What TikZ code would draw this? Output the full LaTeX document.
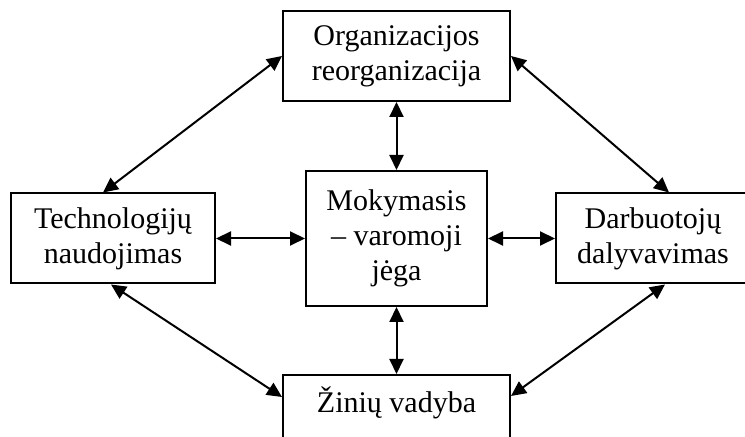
\documentclass[tikz,border=0pt]{standalone}
\usepackage{fontspec}
\setmainfont{Liberation Serif}
\usepackage{tikz}
\usetikzlibrary{positioning, arrows.meta}

\begin{document}
\begin{tikzpicture}[
    box/.style={rectangle, draw=black, line width=1pt, minimum height=45pt, align=center, inner sep=2pt, font=\fontsize{15}{17.5}\selectfont},
    arrow/.style={{Triangle[length=7.5pt,width=7pt]}-{Triangle[length=7.5pt,width=7pt]}, line width=1pt}
]

% ========== RIBOS ==========
\useasboundingbox (0,0) rectangle (372.5pt,-218.5pt);
\clip (0,0) rectangle (372.5pt,-218.5pt);

% ========== CENTRAS ==========
\node[box, minimum width=90.5pt, minimum height=67.5pt] (mokymasis) at (198.25pt,-119.25pt) {Mokymasis \\ -- varomoji \\ jėga};

% ========== APLINK ==========
\node[box, minimum width=113.5pt, above=34pt of mokymasis] (organizacija) {Organizacijos \\ reorganizacija};
\node[box, minimum width=102pt, left=44.5pt of mokymasis] (technologijos) {Technologijų \\ naudojimas};
\node[box, minimum width=97pt, right=33.5pt of mokymasis] (darbuotojai) {Darbuotojų \\ dalyvavimas};
\node[box, minimum width=113.5pt, below=33.5pt of mokymasis] (vadyba) {\raisebox{20pt}{Žinių vadyba}};

% ========== RODYKLĖS ==========
\draw[arrow] (organizacija.south) -- (mokymasis.north);
\draw[arrow] (mokymasis.south) -- (vadyba.north);
\draw[arrow] (technologijos.east) -- (mokymasis.west);
\draw[arrow] (mokymasis.east) -- (darbuotojai.west);
\draw[arrow] (organizacija.west) -- ([xshift=-5pt]technologijos.north);
\draw[arrow] (organizacija.east) -- ([xshift=8pt]darbuotojai.north);
\draw[arrow] ([xshift=-1pt]technologijos.south) -- ([yshift=-11.5pt]vadyba.north west);
\draw[arrow] ([xshift=6pt]darbuotojai.south) -- ([yshift=-11pt]vadyba.north east);

\end{tikzpicture}
\end{document}
